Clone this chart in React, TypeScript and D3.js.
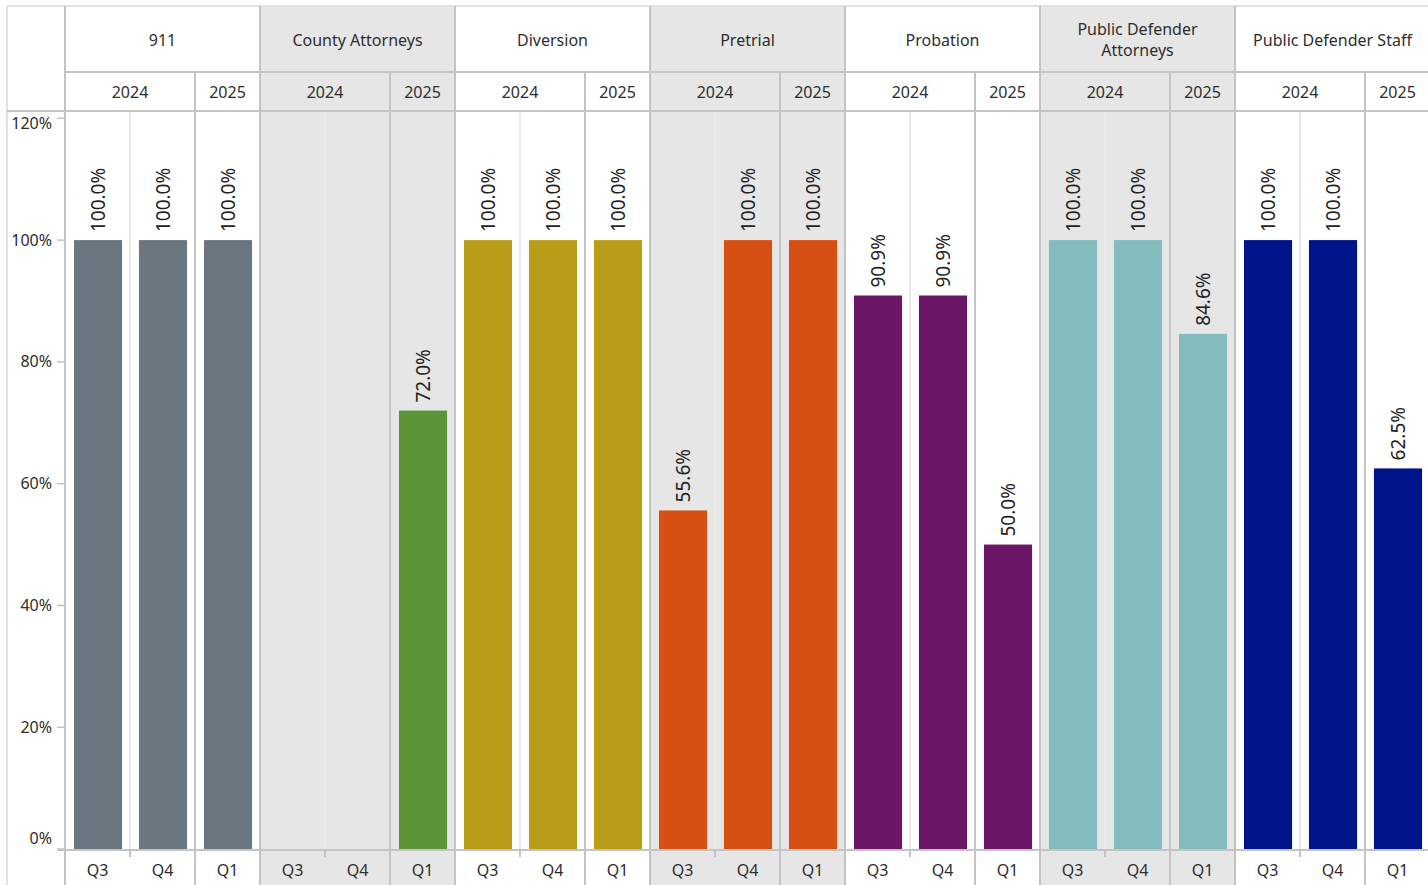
import React from "react";
import * as d3 from "d3";

const categories = [
  "911",
  "County Attorneys",
  "Diversion",
  "Pretrial",
  "Probation",
  "Public Defender Attorneys",
  "Public Defender Staff",
];
const years = ["2024", "2024", "2025"];
const quarters = ["Q3", "Q4", "Q1"];

const values911: (number | null)[] = [100, 100, 100];
const valuesCountyAttorneys: (number | null)[] = [null, null, 72.0];
const valuesDiversion: (number | null)[] = [100, 100, 100];
const valuesPretrial: (number | null)[] = [55.6, 100, 100];
const valuesProbation: (number | null)[] = [90.9, 90.9, 50.0];
const valuesPDAttorneys: (number | null)[] = [100, 100, 84.6];
const valuesPDStaff: (number | null)[] = [100, 100, 62.5];

const seriesValues = [
  values911,
  valuesCountyAttorneys,
  valuesDiversion,
  valuesPretrial,
  valuesProbation,
  valuesPDAttorneys,
  valuesPDStaff,
];

const colors = ["#6b7780", "#5b9538", "#b99d19", "#d65013", "#6c1667", "#84bbbc", "#001489"];
const yTicks = [0, 20, 40, 60, 80, 100, 120];

const W = 1428;
const H = 885;
const FONT = "'Noto Sans', 'Open Sans', sans-serif";
const TEXT = "#2e2e2e";
const LINE = "#c4c4c4";
const LIGHT = "#e9e9e9";
const SHADE = "#e6e6e6";

function wrap(label: string, maxW: number, font: string): string[] {
  const c = document.createElement("canvas").getContext("2d");
  if (!c) return [label];
  c.font = font;
  const words = label.split(" ");
  const lines: string[] = [];
  let cur = "";
  for (const w of words) {
    const t = cur ? cur + " " + w : w;
    if (c.measureText(t).width > maxW && cur) {
      lines.push(cur);
      cur = w;
    } else cur = t;
  }
  if (cur) lines.push(cur);
  return lines;
}

export default function App() {
  const frameL = 7;
  const frameT = 6;
  const axisR = 65;
  const plotR = 1430;
  const row1B = 72;
  const row2B = 111;
  const plotB = 850;

  const fx = d3.scaleBand<string>().domain(categories).range([axisR, plotR]);
  const idx = quarters.map((_, i) => String(i));
  const qx = d3.scaleBand<string>().domain(idx).range([0, fx.bandwidth()]);
  const bx = d3
    .scaleBand<string>()
    .domain(idx)
    .range([0, fx.bandwidth()])
    .paddingInner(0.26)
    .paddingOuter(0.13)
    .align(0.53);
  const y = d3.scaleLinear().domain([0, 121.2]).range([849, 111]);

  const yearGroups: { year: string; start: number; end: number }[] = [];
  years.forEach((yr, i) => {
    const last = yearGroups[yearGroups.length - 1];
    if (last && last.year === yr) last.end = i;
    else yearGroups.push({ year: yr, start: i, end: i });
  });

  const headerFont = `16px 'Noto Sans'`;

  return (
    <svg
      width={W}
      height={H}
      style={{ position: "absolute", left: 0, top: 0, background: "#fff" }}
      fontFamily={FONT}
    >
      {categories.map((c, ci) =>
        ci % 2 === 1 ? (
          <rect key={c} x={fx(c)!} y={frameT} width={fx.bandwidth()} height={H - frameT} fill={SHADE} />
        ) : null
      )}

      {categories.map((c) =>
        quarters.map((q, i) => {
          if (i === 0 || years[i] !== years[i - 1]) return null;
          const x = fx(c)! + qx(String(i))!;
          return (
            <g key={c + q}>
              <line x1={x} x2={x} y1={row2B} y2={plotB} stroke={LIGHT} strokeWidth={2} />
              <line x1={x} x2={x} y1={plotB} y2={plotB + 7} stroke={LINE} strokeWidth={2} />
            </g>
          );
        })
      )}

      {categories.map((c, ci) =>
        seriesValues[ci].map((v, i) =>
          v == null ? null : (
            <rect
              key={c + i}
              x={fx(c)! + bx(String(i))!}
              y={y(v)}
              width={bx.bandwidth()}
              height={y(0) - y(v)}
              fill={colors[ci]}
            />
          )
        )
      )}

      {categories.map((c, ci) =>
        seriesValues[ci].map((v, i) => {
          if (v == null) return null;
          const cx = fx(c)! + bx(String(i))! + bx.bandwidth() / 2;
          const cy = y(v) - 8;
          return (
            <text
              key={c + "l" + i}
              transform={`translate(${cx},${cy}) rotate(-90)`}
              textAnchor="start"
              dy="0.35em"
              fontSize={19}
              fill="#222"
            >
              {d3.format(".1f")(v) + "%"}
            </text>
          );
        })
      )}

      <line x1={frameL} x2={W} y1={frameT} y2={frameT} stroke="#dfe3e3" strokeWidth={2} />
      <line x1={frameL} x2={frameL} y1={frameT} y2={H} stroke="#dfe3e3" strokeWidth={2} />
      <line x1={axisR} x2={W} y1={row1B} y2={row1B} stroke={LINE} strokeWidth={2} />
      <line x1={frameL} x2={W} y1={row2B} y2={row2B} stroke={LINE} strokeWidth={2} />
      <line x1={57} x2={W} y1={plotB} y2={plotB} stroke={LINE} strokeWidth={2} />

      {categories.map((c) => (
        <line key={c} x1={fx(c)!} x2={fx(c)!} y1={frameT} y2={H} stroke={LINE} strokeWidth={2} />
      ))}
      {categories.map((c) =>
        yearGroups.slice(1).map((g) => {
          const x = fx(c)! + qx(String(g.start))!;
          return <line key={c + g.year} x1={x} x2={x} y1={row1B} y2={H} stroke={LINE} strokeWidth={2} />;
        })
      )}

      {categories.map((c) => {
        const lines = wrap(c, fx.bandwidth() - 12, headerFont);
        const cx = fx(c)! + fx.bandwidth() / 2;
        const cy = (frameT + row1B) / 2 + 1;
        return (
          <text key={c} x={cx} textAnchor="middle" fontSize={16} fill={TEXT}>
            {lines.map((l, li) => (
              <tspan key={li} x={cx} y={cy + (li - (lines.length - 1) / 2) * 21} dy="0.35em">
                {l}
              </tspan>
            ))}
          </text>
        );
      })}

      {categories.map((c) =>
        yearGroups.map((g) => {
          const x0 = fx(c)! + qx(String(g.start))!;
          const x1 = fx(c)! + qx(String(g.end))! + qx.bandwidth();
          return (
            <text
              key={c + g.year}
              x={(x0 + x1) / 2}
              y={(row1B + row2B) / 2 + 1}
              dy="0.35em"
              textAnchor="middle"
              fontSize={16}
              fill={TEXT}
            >
              {g.year}
            </text>
          );
        })
      )}

      {categories.map((c) =>
        quarters.map((q, i) => (
          <text
            key={c + q + i}
            x={fx(c)! + qx(String(i))! + qx.bandwidth() / 2}
            y={870}
            dy="0.35em"
            textAnchor="middle"
            fontSize={16}
            fill={TEXT}
          >
            {q}
          </text>
        ))
      )}

      {yTicks.map((t, i) => {
        const ty = y(t);
        let ly = ty;
        if (i === 0) ly = ty - 11;
        if (i === yTicks.length - 1) ly = ty + 5;
        return (
          <g key={t}>
            <line x1={57} x2={64} y1={ty} y2={ty} stroke={LINE} strokeWidth={1.5} />
            <text x={52} y={ly} dy="0.35em" textAnchor="end" fontSize={16} fill={TEXT}>
              {t + "%"}
            </text>
          </g>
        );
      })}
    </svg>
  );
}
